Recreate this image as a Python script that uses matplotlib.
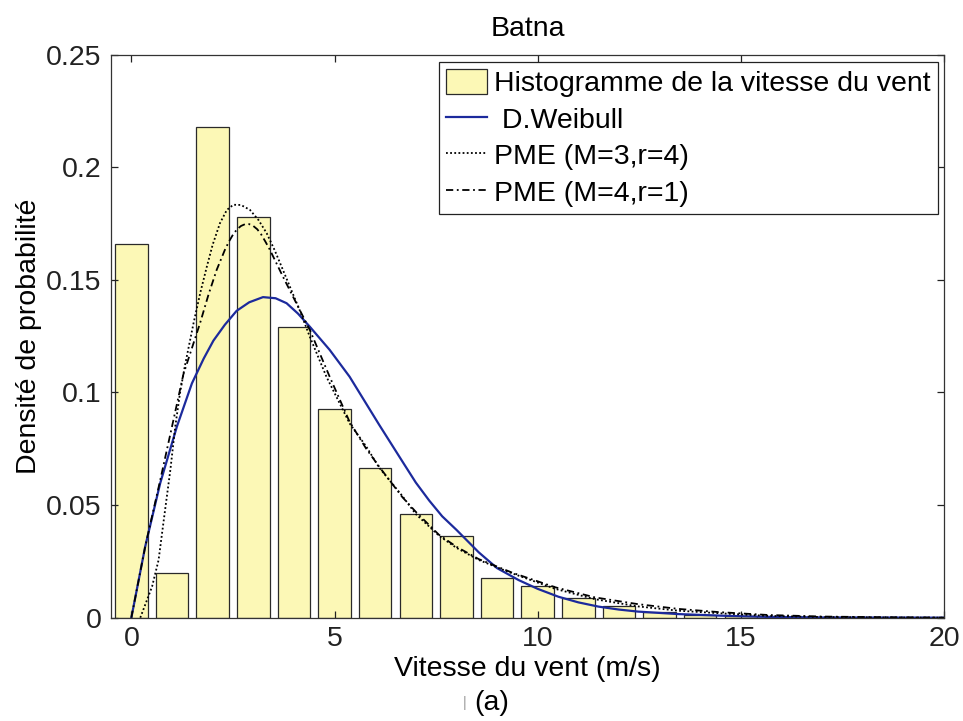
import numpy as np
import matplotlib.pyplot as plt
from matplotlib.ticker import FormatStrFormatter

plt.rcParams['font.family'] = ['Liberation Sans', 'DejaVu Sans']

# histogram of the wind speed (bar centres in m/s, density)
bin_centres = [0, 1, 2, 3, 4, 5, 6, 7, 8, 9, 10, 11, 12, 13, 14, 15, 16]
hist_density = [0.1658, 0.0200, 0.2176, 0.1780, 0.1292, 0.0925, 0.0666, 0.0460,
                0.0363, 0.0175, 0.0142, 0.0086, 0.0052, 0.0024, 0.0014, 0.0007, 0.0003]

# Weibull fit
weib_x = [0, 0.34, 0.71, 1.12, 1.49, 1.78, 2.02, 2.3, 2.59, 2.9, 3.24, 3.55, 3.82, 4.1,
          4.39, 4.88, 5.37, 6.1, 6.7, 7.0, 7.33, 7.65, 8.0, 8.55, 9.0, 9.53, 10.0, 10.51,
          11.0, 11.5, 12.0, 12.47, 13.46, 14.5, 15.5, 17, 20]
weib_y = [0, 0.0315, 0.0597, 0.0848, 0.104, 0.115, 0.123, 0.130, 0.1362, 0.1400, 0.1423,
          0.1418, 0.1396, 0.135, 0.1292, 0.1189, 0.107, 0.0856, 0.0685, 0.060, 0.052,
          0.045, 0.039, 0.029, 0.022, 0.0167, 0.0128, 0.0093, 0.0068, 0.0049, 0.0036,
          0.0027, 0.0016, 0.0009, 0.0004, 0.0001, 0.0]

# PME (M=3, r=4)
pme34_x = [0.22, 0.51, 0.67, 0.83, 0.96, 1.08, 1.2, 1.32, 1.53, 1.7, 1.86, 2.0, 2.18,
           2.35, 2.51, 2.7, 2.92, 3.13, 3.33, 3.53, 3.73, 4.14, 4.39, 4.8, 5.37, 5.78,
           6.1, 6.67, 7.0, 7.57, 8.0, 8.55, 9.37, 10.43, 11.41, 12.47, 13.46, 14.44,
           15.66, 17, 18.5, 20]
pme34_y = [0, 0.0138, 0.0256, 0.0478, 0.0656, 0.0848, 0.100, 0.112, 0.1307, 0.1445,
           0.156, 0.1655, 0.1751, 0.1810, 0.1833, 0.1832, 0.181, 0.1765, 0.1707, 0.163,
           0.1544, 0.1366, 0.1248, 0.107, 0.0863, 0.076, 0.0666, 0.054, 0.046, 0.0364,
           0.031, 0.0256, 0.0197, 0.0128, 0.0082, 0.005, 0.0031, 0.002, 0.0008, 0.0003,
           0.0001, 0.0]

# PME (M=4, r=1)
pme41_x = [0, 0.34, 0.71, 1.0, 1.28, 1.69, 1.9, 2.1, 2.3, 2.4, 2.5, 2.6, 2.7, 2.8, 2.9,
           3.0, 3.1, 3.2, 3.3, 3.41, 3.73, 4.06, 4.39, 4.88, 5.37, 5.78, 6.1, 6.67, 7.0,
           7.57, 8.0, 8.55, 9.37, 10.43, 11.41, 12.47, 13.46, 14.44, 15.66, 17, 18.5, 20]
pme41_y = [0, 0.0315, 0.061, 0.0848, 0.108, 0.1307, 0.1435, 0.1544, 0.1632, 0.1669,
           0.1700, 0.1724, 0.1739, 0.1747, 0.1747, 0.1739, 0.1724, 0.1700, 0.1669, 0.1633,
           0.1514, 0.1396, 0.1278, 0.107, 0.087, 0.075, 0.067, 0.0535, 0.047, 0.0368,
           0.0315, 0.026, 0.020, 0.0135, 0.009, 0.006, 0.0039, 0.0025, 0.0012, 0.0005,
           0.0002, 0.0]

fs = 20.5
fig = plt.figure(figsize=(9.63, 7.21), dpi=100)
ax = fig.add_axes([0.1153, 0.1433, 0.8650, 0.7811])

bars = ax.bar(bin_centres, hist_density, width=0.8, color='#fcf8b6', edgecolor='#2a2a2a',
              linewidth=0.9, label='Histogramme de la vitesse du vent')
l1, = ax.plot(weib_x, weib_y, color='#1c2a9c', lw=1.6, label=' D.Weibull')
l2, = ax.plot(pme34_x, pme34_y, color='black', lw=1.3, ls=(0, (1, 1.3)), label='PME (M=3,r=4)')
l3, = ax.plot(pme41_x, pme41_y, color='black', lw=1.3, ls=(0, (4, 2, 1, 2)), label='PME (M=4,r=1)')

ax.set_xlim(-0.5, 20)
ax.set_ylim(0, 0.25)
ax.set_xticks([0, 5, 10, 15, 20])
ax.set_yticks([0, 0.05, 0.1, 0.15, 0.2, 0.25])
ax.yaxis.set_major_formatter(FormatStrFormatter('%g'))
ax.tick_params(direction='in', length=5, width=0.9, top=True, right=True,
               labelsize=fs, colors='#222222')
ax.tick_params(axis='x', pad=6)
ax.tick_params(axis='y', pad=7)
for s in ax.spines.values():
    s.set_color('#333333')
    s.set_linewidth(0.9)

ax.set_title('Batna', fontsize=fs, pad=13)
ax.set_xlabel('Vitesse du vent (m/s)', fontsize=fs, labelpad=3)
ax.set_ylabel('Densité de probabilité', fontsize=fs, labelpad=3)

leg = ax.legend([bars, l1, l2, l3], [bars.get_label(), l1.get_label(), l2.get_label(), l3.get_label()],
                loc='upper right', bbox_to_anchor=(0.993, 0.987), borderaxespad=0,
                fontsize=fs, fancybox=False, framealpha=1, edgecolor='#222222',
                handlelength=1.45, handleheight=1.0, handletextpad=0.25,
                labelspacing=0.28, borderpad=0.25)
leg.get_frame().set_linewidth(0.9)

fig.text(465 / 963, 1 - 703 / 721, '|', fontsize=10, color='#999999', ha='center', va='center')
fig.text(492 / 963, 1 - 703 / 721, '(a)', fontsize=fs, ha='center', va='center')

fig.savefig('out.png', dpi=100)
